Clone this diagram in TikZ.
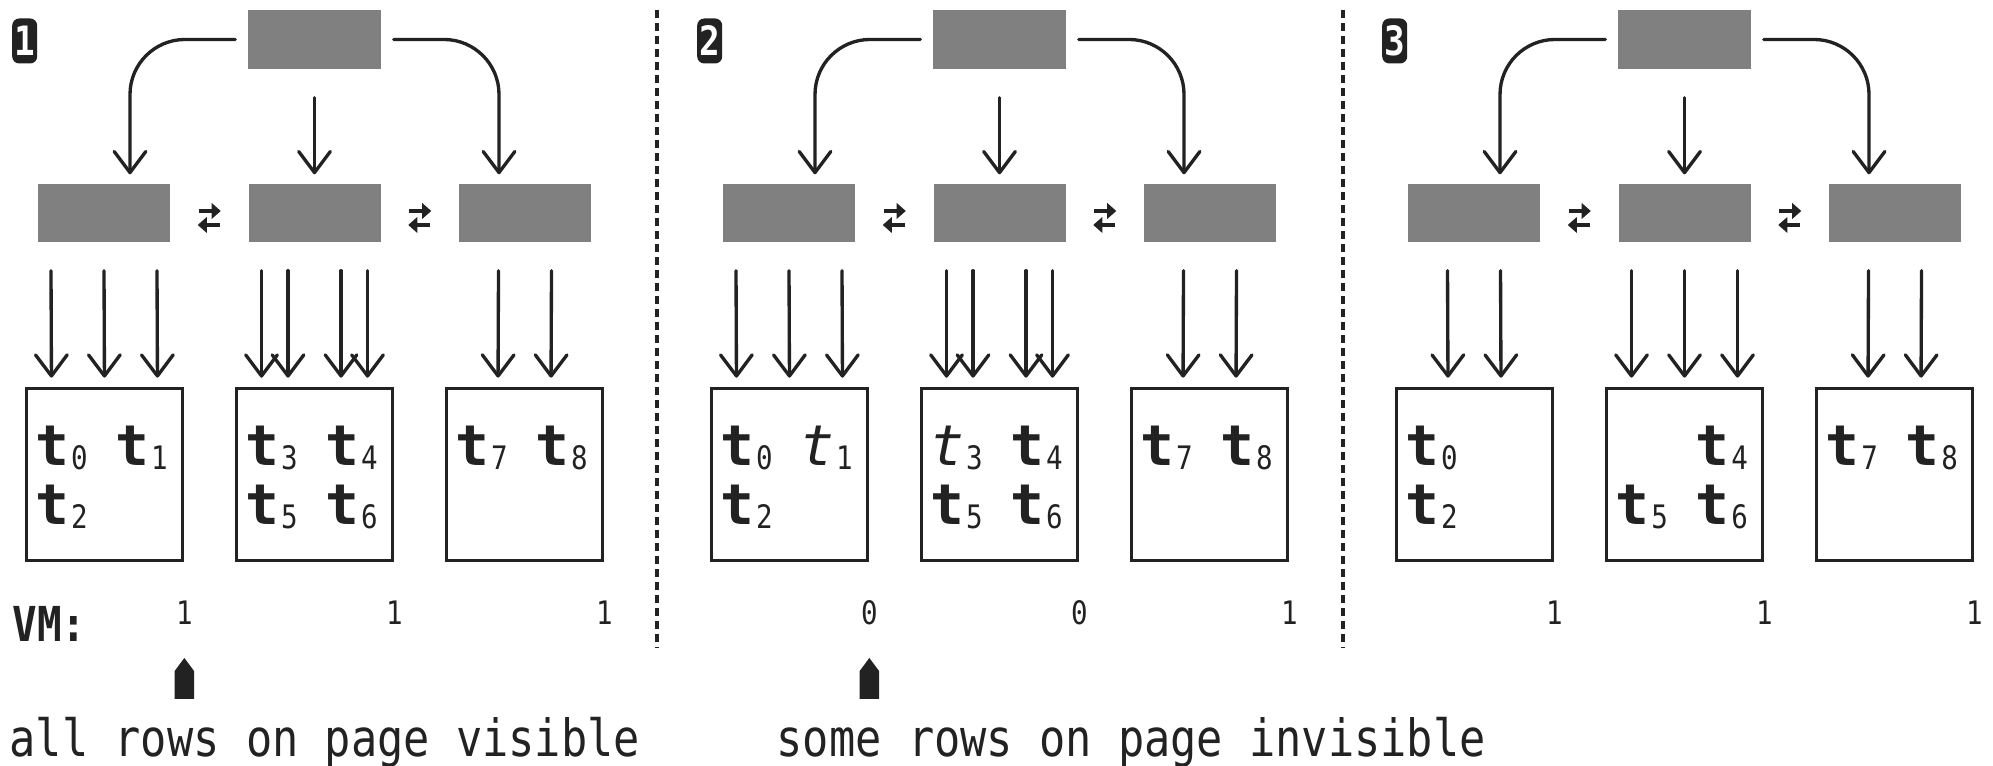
\documentclass[tikz,border=0pt]{standalone}
\usepackage{fontspec}
\setmainfont{DejaVu Sans Mono}[FakeStretch=0.85]
\newfontfamily\tupfont{DejaVu Sans Mono}
\usetikzlibrary{arrows.meta}
\definecolor{ink}{HTML}{222222}
\definecolor{pagegray}{HTML}{808080}
\newcommand{\tup}[1]{{\tupfont\fontsize{16}{18}\selectfont\bfseries t}\kern0.02cm\raisebox{-0.04cm}{\fontsize{9.2}{10}\selectfont #1}}
\newcommand{\tdead}[1]{{\tupfont\fontsize{16}{18}\selectfont\itshape t}\kern0.02cm\raisebox{-0.04cm}{\fontsize{9.2}{10}\selectfont #1}}

\begin{document}
\begin{tikzpicture}[
        inner/.style={fill=pagegray, minimum width=1.33cm, minimum height=0.59cm, inner sep=0pt},
        leaf/.style={fill=pagegray, minimum width=1.32cm, minimum height=0.58cm, inner sep=0pt},
        heappage/.style={draw=ink, line width=1.05pt, minimum width=1.56cm, minimum height=1.72cm, inner sep=0pt},
        link/.style={draw=ink, line width=0.95pt, line cap=round,
            -{Straight Barb[length=6pt, width=9pt, round]}, shorten >=0.09cm},
        sib/.style={draw=ink, line width=1.25pt, -{Triangle[length=2.6pt, width=4.4pt]},
            shorten <=0.28cm, shorten >=0.27cm},
        tuple/.style={anchor=base west, inner sep=0pt, text=ink},
        vmbit/.style={anchor=base, inner sep=0pt, text=ink, font=\fontsize{9.2}{10}\selectfont},
        badge/.style={fill=ink, text=white, rounded corners=2pt, minimum width=0.25cm,
            minimum height=0.45cm, inner sep=0pt, font=\fontsize{11.5}{12}\selectfont\bfseries},
        caption/.style={anchor=base west, inner sep=0pt, text=ink, font=\fontsize{14.6}{16}\selectfont},
        divider/.style={draw=ink, line width=1.2pt, dash pattern=on 2.2pt off 1.5pt}
    ]
    \useasboundingbox (0,0) rectangle (19.93,7.66);
    \coordinate (vmline) at (0,1.41);
    \coordinate (mkline) at (0,0.67);

    \foreach \p/\x/\va/\vb/\vc/\la/\lb in {1/0/1/1/1/{-2,0,2}/{-2,-1,1,2},
            2/6.85/0/0/1/{-2,0,2}/{-2,-1,1,2}, 3/13.7/1/1/1/{-1,1}/{-2,0,2}} {
        \node[badge] (n\p) at (\x+0.247, 7.25) {\p};
        \node[inner] (r\p) at (\x+3.145, 7.265) {};
        \node[leaf] (l\p-a) at (\x+1.04, 5.53) {};
        \node[leaf] (l\p-b) at (\x+3.145, 5.53) {};
        \node[leaf] (l\p-c) at (\x+5.25, 5.53) {};
        \node[heappage] (pg\p-a) at (\x+1.045, 2.915) {};
        \node[heappage] (pg\p-b) at (\x+3.145, 2.915) {};
        \node[heappage] (pg\p-c) at (\x+5.245, 2.915) {};

        % root page to leaf pages
        \draw[link, rounded corners=0.55cm] ([xshift=-0.12cm]r\p.west) -| ([xshift=0.26cm]l\p-a.north);
        \draw[link] ([yshift=-0.28cm]r\p.south) -- (l\p-b.north);
        \draw[link, rounded corners=0.55cm] ([xshift=0.12cm]r\p.east) -| ([xshift=-0.26cm]l\p-c.north);

        % sibling links
        \draw[sib] ([yshift=0.02cm]l\p-a.east) -- ([yshift=0.02cm]l\p-b.west);
        \draw[sib] ([yshift=-0.12cm]l\p-b.west) -- ([yshift=-0.12cm]l\p-a.east);
        \draw[sib] ([yshift=0.02cm]l\p-b.east) -- ([yshift=0.02cm]l\p-c.west);
        \draw[sib] ([yshift=-0.12cm]l\p-c.west) -- ([yshift=-0.12cm]l\p-b.east);

        % leaf entries to heap pages
        \foreach \k in \la
            \draw[link] ([xshift=\k*0.265cm, yshift=-0.28cm]l\p-a.south) -- ([xshift=\k*0.265cm]pg\p-a.north);
        \foreach \k in \lb
            \draw[link] ([xshift=\k*0.265cm, yshift=-0.28cm]l\p-b.south) -- ([xshift=\k*0.265cm]pg\p-b.north);
        \foreach \k in {-1,1}
            \draw[link] ([xshift=\k*0.265cm, yshift=-0.28cm]l\p-c.south) -- ([xshift=\k*0.265cm]pg\p-c.north);

        % tuple slots
        \foreach \b in {a,b,c} {
            \coordinate (pg\p-\b-1) at ([shift={(0.10,-0.785)}]pg\p-\b.north west);
            \coordinate (pg\p-\b-2) at ([shift={(0.90,-0.785)}]pg\p-\b.north west);
            \coordinate (pg\p-\b-3) at ([shift={(0.10,-1.375)}]pg\p-\b.north west);
            \coordinate (pg\p-\b-4) at ([shift={(0.90,-1.375)}]pg\p-\b.north west);
        }

        % visibility map bits
        \node[vmbit] (vm\p-a) at (pg\p-a.east |- vmline) {\va};
        \node[vmbit] (vm\p-b) at (pg\p-b.east |- vmline) {\vb};
        \node[vmbit] (vm\p-c) at (pg\p-c.east |- vmline) {\vc};
    }

    \foreach \s/\txt in {1-a-1/\tup0, 1-a-2/\tup1, 1-a-3/\tup2, 1-b-1/\tup3, 1-b-2/\tup4,
            1-b-3/\tup5, 1-b-4/\tup6, 1-c-1/\tup7, 1-c-2/\tup8}
        \node[tuple] at (pg\s) {\txt};
    \foreach \s/\txt in {2-a-1/\tup0, 2-a-2/\tdead1, 2-a-3/\tup2, 2-b-1/\tdead3, 2-b-2/\tup4,
            2-b-3/\tup5, 2-b-4/\tup6, 2-c-1/\tup7, 2-c-2/\tup8}
        \node[tuple] at (pg\s) {\txt};
    \foreach \s/\txt in {3-a-1/\tup0, 3-a-3/\tup2, 3-b-2/\tup4,
            3-b-3/\tup5, 3-b-4/\tup6, 3-c-1/\tup7, 3-c-2/\tup8}
        \node[tuple] at (pg\s) {\txt};

    % panel separators
    \draw[divider] (6.57,7.56) -- (6.57,1.18);
    \draw[divider] (13.43,7.56) -- (13.43,1.18);

    \node[caption, font=\fontsize{13.7}{15}\selectfont\bfseries] (vm) at (0.12,1.24) {VM:};

    % pointers
    \foreach \p in {1,2} {
        \coordinate (mk\p) at (vm\p-a |- mkline);
        \fill[ink] (mk\p) ++(-0.097,0) -- ++(0,0.28) -- ++(0.097,0.13) -- ++(0.097,-0.13) -- ++(0,-0.28) -- cycle;
    }

    \node[caption] (cap1) at (0.09,0.09) {all rows on page visible};
    \node[caption] (cap2) at (7.76,0.09) {some rows on page invisible};
\end{tikzpicture}
\end{document}
